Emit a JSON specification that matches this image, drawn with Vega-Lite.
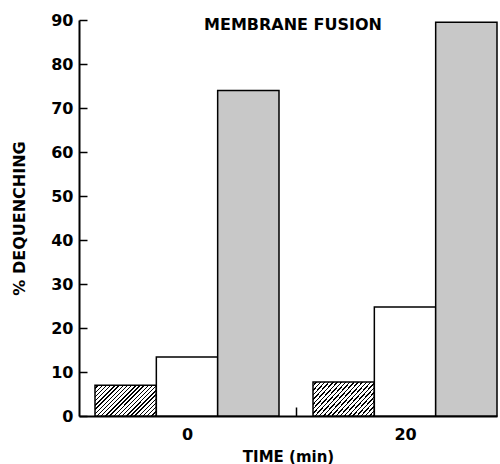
{
  "$schema": "https://vega.github.io/schema/vega-lite/v6.json",
  "width": 418,
  "height": 396,
  "autosize": "none",
  "padding": {"left": 79, "top": 20, "right": 3, "bottom": 48},
  "background": "white",
  "title": {
    "text": "MEMBRANE FUSION",
    "orient": "top",
    "anchor": "middle",
    "baseline": "alphabetic",
    "offset": 0,
    "dx": 5,
    "dy": 34,
    "font": "DejaVu Sans",
    "fontSize": 16,
    "fontWeight": "bold",
    "color": "black"
  },
  "data": {
    "values": [
      {"time": "0", "s": "a", "v": 7.0},
      {"time": "0", "s": "b", "v": 13.4},
      {"time": "0", "s": "c", "v": 74.0},
      {"time": "20", "s": "a", "v": 7.7},
      {"time": "20", "s": "b", "v": 24.8},
      {"time": "20", "s": "c", "v": 89.5}
    ]
  },
  "mark": {"type": "bar", "stroke": "black", "strokeWidth": 1.5},
  "encoding": {
    "x": {
      "field": "time",
      "type": "nominal",
      "sort": ["0", "20"],
      "scale": {"paddingInner": 0.156, "paddingOuter": 0.0367, "align": 1},
      "axis": {
        "title": "TIME (min)",
        "labelAngle": 0,
        "bandPosition": 1,
        "tickOffset": 17,
        "labelOffset": -17,
        "tickExtra": false,
        "tickSize": -9,
        "tickWidth": 1.5,
        "tickColor": "black",
        "domainColor": "black",
        "domainWidth": 2,
        "labelPadding": 19,
        "labelFont": "DejaVu Sans",
        "labelFontSize": 16,
        "labelFontWeight": "bold",
        "labelColor": "black",
        "titleFont": "DejaVu Sans",
        "titleFontSize": 15,
        "titleFontWeight": "bold",
        "titleColor": "black",
        "titlePadding": 7,
        "grid": false
      }
    },
    "xOffset": {
      "field": "s",
      "type": "nominal",
      "sort": ["a", "b", "c"],
      "scale": {"paddingInner": 0, "paddingOuter": 0}
    },
    "y": {
      "field": "v",
      "type": "quantitative",
      "scale": {"domain": [0, 90], "nice": false},
      "axis": {
        "title": "% DEQUENCHING",
        "values": [0, 10, 20, 30, 40, 50, 60, 70, 80, 90],
        "tickSize": -8,
        "tickWidth": 1.5,
        "tickColor": "black",
        "domainColor": "black",
        "domainWidth": 2,
        "labelPadding": 14,
        "labelFont": "DejaVu Sans",
        "labelFontSize": 16,
        "labelFontWeight": "bold",
        "labelColor": "black",
        "titleFont": "DejaVu Sans",
        "titleFontSize": 16,
        "titleFontWeight": "bold",
        "titleColor": "black",
        "titlePadding": 23,
        "grid": false
      }
    },
    "fill": {
      "condition": [
        {
          "test": "datum.s === 'a'",
          "value": {
            "gradient": "linear",
            "x1": 0, "y1": 0, "x2": 1.2, "y2": 0.6,
            "stops": [
              {"offset": 0, "color": "white"}, {"offset": 0.0295, "color": "white"}, {"offset": 0.0295, "color": "black"}, {"offset": 0.0455, "color": "black"},
              {"offset": 0.0455, "color": "white"}, {"offset": 0.075, "color": "white"}, {"offset": 0.075, "color": "black"}, {"offset": 0.0909, "color": "black"},
              {"offset": 0.0909, "color": "white"}, {"offset": 0.1205, "color": "white"}, {"offset": 0.1205, "color": "black"}, {"offset": 0.1364, "color": "black"},
              {"offset": 0.1364, "color": "white"}, {"offset": 0.1659, "color": "white"}, {"offset": 0.1659, "color": "black"}, {"offset": 0.1818, "color": "black"},
              {"offset": 0.1818, "color": "white"}, {"offset": 0.2114, "color": "white"}, {"offset": 0.2114, "color": "black"}, {"offset": 0.2273, "color": "black"},
              {"offset": 0.2273, "color": "white"}, {"offset": 0.2568, "color": "white"}, {"offset": 0.2568, "color": "black"}, {"offset": 0.2727, "color": "black"},
              {"offset": 0.2727, "color": "white"}, {"offset": 0.3023, "color": "white"}, {"offset": 0.3023, "color": "black"}, {"offset": 0.3182, "color": "black"},
              {"offset": 0.3182, "color": "white"}, {"offset": 0.3477, "color": "white"}, {"offset": 0.3477, "color": "black"}, {"offset": 0.3636, "color": "black"},
              {"offset": 0.3636, "color": "white"}, {"offset": 0.3932, "color": "white"}, {"offset": 0.3932, "color": "black"}, {"offset": 0.4091, "color": "black"},
              {"offset": 0.4091, "color": "white"}, {"offset": 0.4386, "color": "white"}, {"offset": 0.4386, "color": "black"}, {"offset": 0.4545, "color": "black"},
              {"offset": 0.4545, "color": "white"}, {"offset": 0.4841, "color": "white"}, {"offset": 0.4841, "color": "black"}, {"offset": 0.5, "color": "black"},
              {"offset": 0.5, "color": "white"}, {"offset": 0.5295, "color": "white"}, {"offset": 0.5295, "color": "black"}, {"offset": 0.5455, "color": "black"},
              {"offset": 0.5455, "color": "white"}, {"offset": 0.575, "color": "white"}, {"offset": 0.575, "color": "black"}, {"offset": 0.5909, "color": "black"},
              {"offset": 0.5909, "color": "white"}, {"offset": 0.6205, "color": "white"}, {"offset": 0.6205, "color": "black"}, {"offset": 0.6364, "color": "black"},
              {"offset": 0.6364, "color": "white"}, {"offset": 0.6659, "color": "white"}, {"offset": 0.6659, "color": "black"}, {"offset": 0.6818, "color": "black"},
              {"offset": 0.6818, "color": "white"}, {"offset": 0.7114, "color": "white"}, {"offset": 0.7114, "color": "black"}, {"offset": 0.7273, "color": "black"},
              {"offset": 0.7273, "color": "white"}, {"offset": 0.7568, "color": "white"}, {"offset": 0.7568, "color": "black"}, {"offset": 0.7727, "color": "black"},
              {"offset": 0.7727, "color": "white"}, {"offset": 0.8023, "color": "white"}, {"offset": 0.8023, "color": "black"}, {"offset": 0.8182, "color": "black"},
              {"offset": 0.8182, "color": "white"}, {"offset": 0.8477, "color": "white"}, {"offset": 0.8477, "color": "black"}, {"offset": 0.8636, "color": "black"},
              {"offset": 0.8636, "color": "white"}, {"offset": 0.8932, "color": "white"}, {"offset": 0.8932, "color": "black"}, {"offset": 0.9091, "color": "black"},
              {"offset": 0.9091, "color": "white"}, {"offset": 0.9386, "color": "white"}, {"offset": 0.9386, "color": "black"}, {"offset": 0.9545, "color": "black"},
              {"offset": 0.9545, "color": "white"}, {"offset": 0.9841, "color": "white"}, {"offset": 0.9841, "color": "black"}, {"offset": 1, "color": "black"}
            ]
          }
        },
        {"test": "datum.s === 'c'", "value": "#c8c8c8"}
      ],
      "value": "white"
    }
  },
  "config": {
    "view": {"stroke": null},
    "font": "DejaVu Sans"
  }
}
